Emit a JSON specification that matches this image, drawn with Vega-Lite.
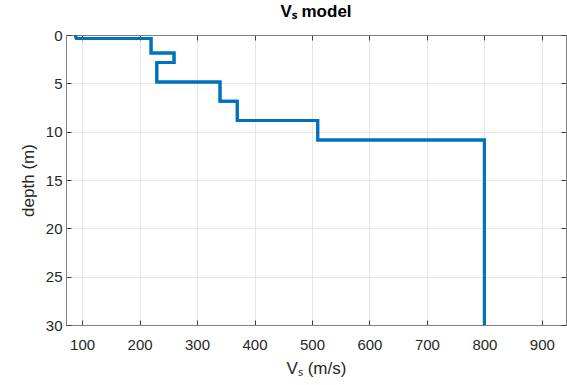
{
  "$schema": "https://vega.github.io/schema/vega-lite/v6.json",
  "width": 500,
  "height": 290,
  "autosize": "none",
  "padding": {"left": 66, "top": 35, "right": 1, "bottom": 60},
  "background": "white",
  "title": {
    "text": "Vₛ model",
    "fontSize": 17,
    "fontWeight": "bold",
    "font": "Liberation Sans",
    "color": "#000000",
    "offset": 7,
    "anchor": "middle"
  },
  "data": {
    "values": [
      {"order": 1, "v": 88, "depth": 0},
      {"order": 2, "v": 90, "depth": 0.35},
      {"order": 3, "v": 220, "depth": 0.35},
      {"order": 4, "v": 220, "depth": 1.85},
      {"order": 5, "v": 260, "depth": 1.85},
      {"order": 6, "v": 260, "depth": 2.85},
      {"order": 7, "v": 230, "depth": 2.85},
      {"order": 8, "v": 230, "depth": 4.85},
      {"order": 9, "v": 340, "depth": 4.85},
      {"order": 10, "v": 340, "depth": 6.85},
      {"order": 11, "v": 370, "depth": 6.85},
      {"order": 12, "v": 370, "depth": 8.85},
      {"order": 13, "v": 510, "depth": 8.85},
      {"order": 14, "v": 510, "depth": 10.85},
      {"order": 15, "v": 800, "depth": 10.85},
      {"order": 16, "v": 800, "depth": 30}
    ]
  },
  "config": {
    "view": {"stroke": "#7f7f7f", "strokeWidth": 1},
    "axis": {
      "labelFont": "Liberation Sans",
      "labelFontSize": 15,
      "labelColor": "#262626",
      "titleFont": "Liberation Sans",
      "titleFontSize": 17,
      "titleFontWeight": "normal",
      "titleColor": "#262626",
      "domainColor": "#7f7f7f",
      "tickColor": "#404040",
      "gridColor": "#e6e6e6",
      "gridWidth": 1
    }
  },
  "layer": [
    {
      "mark": {"type": "line", "color": "#0072BD", "strokeWidth": 3, "clip": true},
      "encoding": {
        "x": {
          "field": "v", "type": "quantitative",
          "scale": {"domain": [72, 942], "nice": false, "zero": false},
          "axis": {"values": [100, 200, 300, 400, 500, 600, 700, 800, 900], "title": "Vₛ (m/s)", "tickSize": -5, "labelPadding": 17, "titlePadding": 8, "grid": true}
        },
        "y": {
          "field": "depth", "type": "quantitative",
          "scale": {"domain": [0, 30], "reverse": true, "nice": false, "zero": false},
          "axis": {"values": [0, 5, 10, 15, 20, 25, 30], "title": "depth (m)", "tickSize": -5, "labelPadding": 9, "titlePadding": 8, "grid": true}
        },
        "order": {"field": "order", "type": "quantitative"}
      }
    },
    {
      "mark": {"type": "line", "color": "#0072BD", "strokeWidth": 3, "clip": true},
      "encoding": {
        "x": {
          "field": "v", "type": "quantitative",
          "axis": {"orient": "top", "values": [100, 200, 300, 400, 500, 600, 700, 800, 900], "labels": false, "title": null, "tickSize": -5, "grid": false}
        },
        "y": {
          "field": "depth", "type": "quantitative",
          "axis": {"orient": "right", "values": [0, 5, 10, 15, 20, 25, 30], "labels": false, "title": null, "tickSize": -5, "grid": false}
        },
        "order": {"field": "order", "type": "quantitative"}
      }
    }
  ],
  "resolve": {"axis": {"x": "independent", "y": "independent"}}
}
